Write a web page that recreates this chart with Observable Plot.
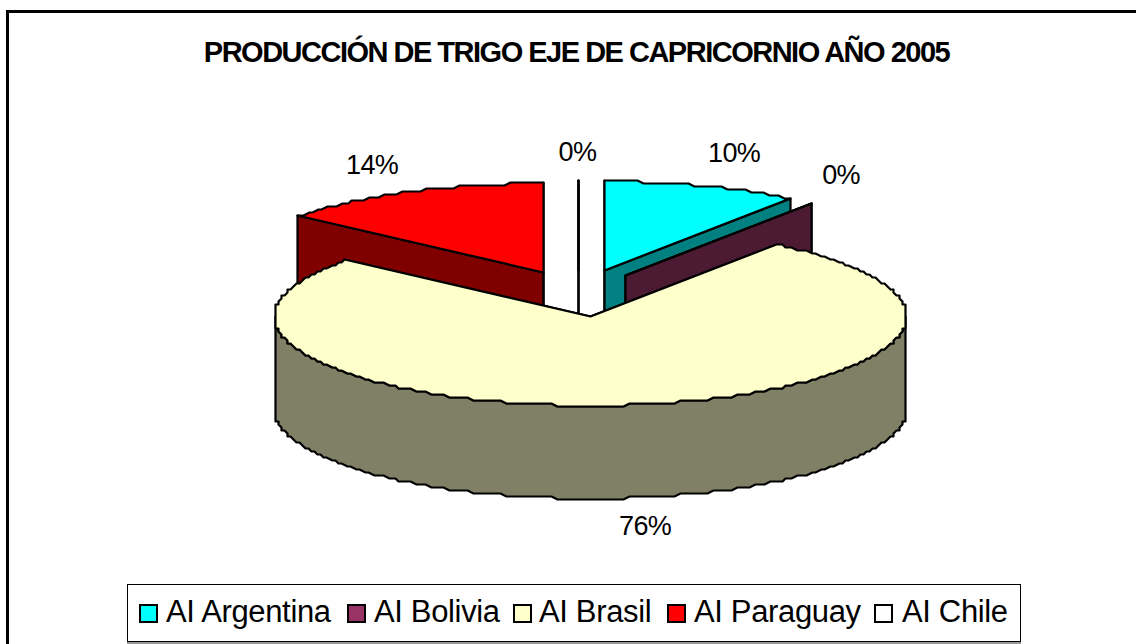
<!DOCTYPE html>
<html>
<head>
<meta charset="utf-8">
<script src="https://cdn.jsdelivr.net/npm/d3@7"></script>
<script src="https://cdn.jsdelivr.net/npm/@observablehq/plot@0.6"></script>
<style>
html,body{margin:0;padding:0;background:#fff;overflow:hidden}
#page{position:relative;width:1136px;height:644px;overflow:hidden;font-family:"Liberation Sans",Arial,sans-serif;color:#000}
#page svg{position:absolute;left:0;top:0;background:none}
#page svg text{letter-spacing:-0.6px}
#border{position:absolute;left:6px;top:10px;width:1160px;height:670px;border:3px solid #000}
#title{position:absolute;left:0;width:1153px;top:35px;text-align:center;font-weight:bold;font-size:29px;line-height:34px;letter-spacing:-1.5px;white-space:nowrap}
#legend{position:absolute;left:127px;top:584px;width:892px;height:56px;border:1px solid #000;box-shadow:0 2px 0 #999}
.key{position:absolute;top:19px;width:15px;height:15px;border:2px solid #000}
.lab{position:absolute;top:9px;font-size:31px;line-height:36px;letter-spacing:-0.35px;white-space:nowrap}
</style>
</head>
<body>
<div id="page">
<div id="border"></div>
<div id="title"></div>
<div id="legend"></div>
</div>
<script>
const titleText = "PRODUCCIÓN DE TRIGO EJE DE CAPRICORNIO AÑO 2005";
const categories = ["AI Argentina", "AI Bolivia", "AI Brasil", "AI Paraguay", "AI Chile"];
const shares = [10.0, 0.1, 75.7, 14.2, 0];
const topColors = ["#00FFFF", "#993366", "#FFFFCC", "#FF0000", "#FFFFFF"];
const sideColors = ["#008080", "#4D1A33", "#808066", "#800000", "#FFFFFF"];

// pie geometry: ellipse radii, extrusion, and the exploded centre of each slice
const rx = 316, ry = 89, depth = 93;
const centers = [[604, 270], [625, 275], [590, 316], [543, 272], [578, 270]];
const labelNudge = [[32, -32], [29, -28], [14, 29], [-35, -27], [-1, -29]];
const paintOrder = [4, 3, 0, 1, 2];
const legendKeyX = [11, 219, 385, 539, 746];
const legendLabelX = [38, 246, 411, 566, 774];

const total = d3.sum(shares);
const cum = d3.cumsum(shares);
const slices = categories.map((name, i) => ({
  name, i,
  a0: (cum[i] - shares[i]) / total * 2 * Math.PI,
  a1: cum[i] / total * 2 * Math.PI,
  cx: centers[i][0], cy: centers[i][1]
}));

// the rim is stepped on a coarse pixel grid, as in the original low-resolution drawing
const grid = 3, step = 1.2 * Math.PI / 180;
const snap = v => Math.round(v / grid) * grid;
const rim = (s, a, dz = 0) => ({
  x: s.cx + snap(rx * Math.sin(a)),
  y: s.cy + dz + snap(-ry * Math.cos(a))
});
function arc(s, a0, a1, dz = 0) {
  const inner = d3.range(Math.floor(a0 / step) + 1, Math.ceil(a1 / step)).map(k => k * step);
  return [a0, ...inner, a1].map(a => rim(s, a, dz));
}
const face = (points, fill) => Plot.line(points, {
  x: "x", y: "y", fill, stroke: "#000", strokeWidth: 2.2,
  curve: "linear-closed", strokeLinejoin: "round"
});
function sliceMarks(s) {
  const side = sideColors[s.i], top = topColors[s.i];
  const c = {x: s.cx, y: s.cy}, cd = {x: s.cx, y: s.cy + depth};
  const radial = a => [c, rim(s, a), rim(s, a, depth), cd];
  const marks = [face(radial(s.a0), side), face(radial(s.a1), side)];
  const w0 = Math.max(s.a0, Math.PI / 2), w1 = Math.min(s.a1, 3 * Math.PI / 2);
  if (w1 > w0) marks.push(face([...arc(s, w0, w1), ...arc(s, w0, w1, depth).reverse()], side));
  marks.push(face([c, ...arc(s, s.a0, s.a1)], top));
  return marks;
}

const labels = slices.map(s => {
  const mid = (s.a0 + s.a1) / 2;
  const front = Math.cos(mid) < 0 ? depth : 0;
  return {
    text: Math.round(shares[s.i] / total * 100) + "%",
    x: s.cx + rx * Math.sin(mid) + labelNudge[s.i][0],
    y: s.cy - ry * Math.cos(mid) + front + labelNudge[s.i][1]
  };
});

const chart = Plot.plot({
  width: 1136, height: 644,
  margin: 0,
  x: {domain: [0, 1136], range: [0, 1136], axis: null},
  y: {domain: [0, 644], range: [0, 644], axis: null},
  style: {background: "none"},
  marks: [
    ...paintOrder.flatMap(i => sliceMarks(slices[i])),
    Plot.text(labels, {
      x: "x", y: "y", text: "text", fill: "#000",
      fontSize: 27, fontFamily: "Liberation Sans, Arial, sans-serif"
    })
  ]
});
document.getElementById("page").appendChild(chart);
document.getElementById("title").textContent = titleText;
const legend = document.getElementById("legend");
categories.forEach((name, i) => {
  const k = document.createElement("div");
  k.className = "key"; k.style.left = legendKeyX[i] + "px"; k.style.background = topColors[i];
  const t = document.createElement("div");
  t.className = "lab"; t.style.left = legendLabelX[i] + "px"; t.textContent = name;
  legend.append(k, t);
});
</script>
</body>
</html>
